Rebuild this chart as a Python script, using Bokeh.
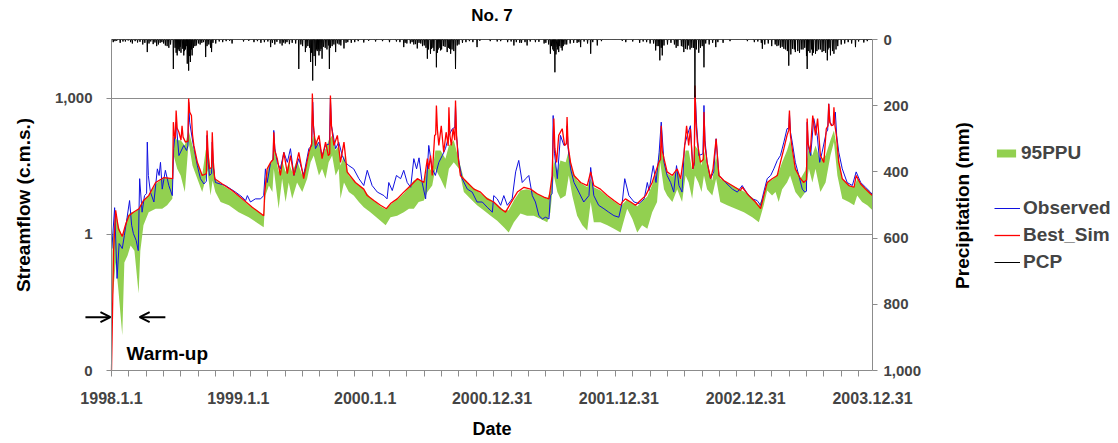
import math
import numpy as np
from bokeh.plotting import figure
from bokeh.models import (Range1d, LinearAxis, LinearScale, FixedTicker, Legend,
                          LegendItem, Arrow, OpenHead, Label)
from bokeh.embed import file_html
from bokeh.resources import INLINE

# ---------------- data (days since 1998-01-01) ----------------
x_tick_days = [0, 365, 730, 1095, 1460, 1825, 2190]
x_tick_labels = ["1998.1.1", "1999.1.1", "2000.1.1", "2000.12.31",
                 "2001.12.31", "2002.12.31", "2003.12.31"]
x_minor_days = list(range(0, 2191, 50))
q_ticks = [0.001, 1, 1000]
q_tick_labels = ["0", "1", "1,000"]
pcp_ticks = [0, 200, 400, 600, 800, 1000]

sim_day = [0, 6, 12, 20, 31, 40, 50, 63, 79, 92,
           107, 127, 151, 176, 178, 181, 184, 186, 189, 194,
           200, 203, 206, 213, 220, 222, 225, 230, 233, 237,
           247, 261, 273, 275, 278, 282, 288, 290, 293, 297,
           319, 347, 376, 405, 438, 441, 448, 458, 465, 467,
           470, 477, 486, 496, 506, 515, 525, 539, 553, 568,
           576, 578, 581, 587, 597, 606, 616, 624, 628, 630,
           633, 640, 650, 659, 669, 678, 702, 726, 736, 755,
           774, 791, 803, 822, 841, 861, 880, 899, 909, 913,
           918, 923, 930, 933, 935, 938, 942, 949, 956, 963,
           969, 971, 974, 978, 983, 988, 990, 993, 997, 1004,
           1024, 1043, 1062, 1081, 1100, 1120, 1134, 1148, 1168, 1187,
           1206, 1225, 1244, 1259, 1268, 1273, 1276, 1281, 1287, 1297,
           1304, 1309, 1311, 1314, 1321, 1331, 1350, 1369, 1379, 1388,
           1407, 1427, 1446, 1465, 1470, 1479, 1494, 1508, 1522, 1537,
           1556, 1575, 1580, 1582, 1585, 1590, 1599, 1614, 1628, 1638,
           1647, 1655, 1661, 1666, 1673, 1677, 1679, 1682, 1686, 1695,
           1703, 1705, 1708, 1714, 1724, 1731, 1740, 1748, 1762, 1786,
           1810, 1815, 1834, 1853, 1868, 1877, 1887, 1901, 1916, 1925,
           1935, 1944, 1949, 1951, 1954, 1959, 1968, 1983, 1992, 2000,
           2002, 2005, 2011, 2018, 2026, 2032, 2040, 2050, 2057, 2062,
           2064, 2067, 2072, 2077, 2079, 2082, 2086, 2093, 2103, 2122,
           2137, 2143, 2156, 2170, 2184, 2190]
sim_q = [0.001, 0.44, 3.4, 1.34, 0.9, 1.6, 2.6, 3.1, 3.7, 5.6,
         7.2, 14, 18, 17, 300, 153, 130, 540, 220, 180,
         120, 250, 140, 109, 115, 1000, 500, 420, 160, 92,
         39, 20, 22, 197, 60, 28, 30, 180, 40, 17,
         13, 9.3, 6.1, 4.0, 2.6, 8.6, 28, 39, 45, 180,
         70, 47, 20, 65, 22, 55, 20, 65, 17, 65,
         100, 1290, 250, 92, 153, 47, 109, 55, 60, 1160,
         250, 92, 153, 39, 109, 24, 14, 10, 7.2, 5.6,
         4.4, 3.7, 4.8, 6.1, 8.6, 12, 17, 14, 47, 28,
         55, 20, 153, 160, 700, 200, 92, 250, 65, 180,
         90, 640, 150, 92, 215, 120, 900, 150, 55, 20,
         14, 10, 8.6, 6.1, 5.2, 3.7, 3.1, 4.8, 8.6, 11,
         10, 7.9, 6.7, 6.1, 20, 360, 80, 39, 153, 215,
         92, 100, 390, 90, 39, 20, 14, 12, 24, 12,
         10, 7.2, 5.6, 4.4, 5.2, 6.1, 5.2, 4.4, 5.6, 7.2,
         14, 39, 45, 250, 70, 47, 24, 20, 28, 17,
         55, 250, 92, 215, 28, 40, 1940, 300, 109, 39,
         45, 500, 90, 39, 17, 28, 129, 20, 15.5, 12,
         9.3, 11, 7.2, 5.2, 3.7, 7.2, 14, 17, 20, 39,
         78, 153, 200, 540, 150, 78, 28, 17, 14, 16,
         360, 100, 65, 420, 153, 360, 55, 39, 215, 250,
         760, 300, 250, 260, 640, 250, 153, 39, 17, 12,
         11, 20, 13, 10, 7.9, 7.2]

obs_day = [1, 9, 16, 22, 31, 37, 45, 52, 58, 63,
           71, 77, 81, 88, 95, 101, 103, 106, 112, 122,
           132, 137, 141, 146, 155, 165, 175, 179, 186, 194,
           208, 216, 220, 222, 225, 234, 247, 256, 266, 273,
           275, 278, 282, 288, 290, 293, 299, 328, 357, 376,
           386, 391, 400, 414, 429, 438, 443, 448, 458, 465,
           467, 470, 477, 486, 496, 506, 515, 525, 539, 553,
           568, 576, 579, 582, 587, 597, 606, 616, 627, 630,
           633, 645, 654, 664, 673, 683, 697, 712, 726, 736,
           750, 765, 784, 793, 798, 808, 820, 832, 841, 851,
           861, 870, 878, 885, 894, 904, 913, 923, 932, 942,
           952, 961, 971, 981, 988, 990, 993, 1000, 1009, 1024,
           1038, 1052, 1067, 1081, 1096, 1100, 1110, 1120, 1129, 1139,
           1153, 1163, 1172, 1182, 1192, 1201, 1211, 1220, 1230, 1240,
           1249, 1259, 1263, 1268, 1271, 1275, 1283, 1292, 1302, 1309,
           1311, 1314, 1321, 1331, 1345, 1359, 1374, 1379, 1388, 1402,
           1417, 1431, 1446, 1460, 1470, 1477, 1489, 1504, 1518, 1533,
           1542, 1547, 1559, 1567, 1576, 1582, 1590, 1599, 1609, 1618,
           1626, 1633, 1642, 1649, 1657, 1666, 1673, 1677, 1680, 1684,
           1690, 1702, 1705, 1708, 1714, 1724, 1733, 1740, 1748, 1767,
           1787, 1801, 1815, 1830, 1844, 1858, 1868, 1877, 1887, 1897,
           1906, 1916, 1925, 1935, 1944, 1949, 1951, 1954, 1959, 1968,
           1978, 1988, 1995, 2000, 2002, 2005, 2012, 2021, 2031, 2038,
           2045, 2057, 2061, 2064, 2068, 2074, 2080, 2083, 2087, 2093,
           2103, 2117, 2132, 2143, 2156, 2170, 2184, 2190]
obs_q = [0.49, 3.9, 0.107, 0.63, 0.49, 0.95, 2.4, 5.6, 1.6, 1.05,
         0.74, 0.44, 17, 3.1, 7.2, 8, 109, 20, 8.6, 5.2,
         28, 20, 39, 10, 26, 12, 7.2, 78, 300, 55,
         92, 71, 90, 830, 300, 109, 33, 17, 13, 15,
         153, 40, 20, 22, 109, 30, 14, 12, 8.6, 6.7,
         5.6, 7.2, 5.2, 6.1, 6.1, 7.2, 28, 14, 39, 45,
         197, 80, 39, 28, 65, 39, 78, 20, 47, 20,
         78, 90, 830, 200, 78, 109, 55, 92, 100, 1000,
         250, 78, 109, 55, 39, 33, 28, 17, 12, 26,
         12, 8.6, 7.2, 6.1, 14, 9.3, 20, 17, 26, 14,
         11, 47, 28, 49, 14, 6.1, 92, 28, 20, 39,
         55, 78, 153, 215, 230, 700, 150, 39, 17, 10,
         8.6, 5.2, 5.2, 4.0, 3.1, 7.2, 6.1, 4.4, 7.2, 4.4,
         6.1, 24, 43, 14, 17, 20, 7.2, 5.2, 2.6, 2.2,
         2.4, 2.2, 7.2, 8, 420, 60, 17, 153, 92, 100,
         250, 80, 28, 14, 8.6, 5.2, 7.2, 30, 7.2, 4.4,
         3.7, 3.1, 2.6, 2.4, 5.2, 17, 7.2, 5.2, 4.8, 6.1,
         14, 9.3, 33, 14, 65, 300, 39, 20, 14, 8.6,
         33, 12, 8.6, 92, 153, 250, 28, 35, 1160, 250,
         55, 60, 700, 120, 39, 17, 24, 129, 20, 14,
         10, 8.6, 12, 7.9, 6.1, 5.6, 4.4, 8.6, 17, 20,
         28, 43, 55, 109, 215, 220, 460, 180, 109, 39,
         20, 10, 8.6, 9, 300, 90, 55, 360, 153, 39,
         65, 180, 200, 760, 300, 250, 280, 500, 150, 65,
         28, 14, 12, 24, 14, 11, 8.6, 7.5]

band_day = [3, 12, 20, 31, 37, 46, 55, 66, 78, 83,
            92, 107, 127, 146, 160, 175, 179, 189, 199, 211,
            222, 233, 251, 261, 271, 276, 285, 291, 299, 314,
            338, 366, 395, 424, 438, 443, 453, 463, 467, 481,
            491, 501, 510, 520, 534, 549, 563, 573, 582, 597,
            606, 616, 625, 635, 645, 654, 659, 669, 683, 697,
            712, 726, 745, 774, 789, 803, 822, 841, 856, 870,
            884, 899, 909, 923, 932, 947, 961, 971, 985, 1000,
            1014, 1033, 1052, 1071, 1091, 1110, 1129, 1143, 1158, 1177,
            1196, 1215, 1235, 1254, 1263, 1273, 1283, 1292, 1307, 1316,
            1326, 1340, 1355, 1369, 1379, 1388, 1407, 1427, 1446, 1465,
            1484, 1499, 1513, 1527, 1542, 1556, 1570, 1579, 1590, 1599,
            1614, 1628, 1642, 1652, 1661, 1671, 1679, 1689, 1698, 1705,
            1714, 1729, 1740, 1752, 1772, 1796, 1820, 1844, 1863, 1877,
            1887, 1901, 1911, 1920, 1930, 1944, 1953, 1968, 1983, 1997,
            2007, 2017, 2026, 2040, 2055, 2069, 2079, 2089, 2103, 2122,
            2137, 2146, 2160, 2175, 2190]
band_lo = [0.035, 0.24, 0.058, 0.006, 0.24, 0.34, 0.57, 0.44, 0.050, 0.44,
           1.6, 3.1, 3.7, 3.7, 4.4, 6.1, 55, 28, 20, 8.6,
           109, 33, 14, 8.6, 17, 26, 7.2, 15.5, 8.6, 5.2,
           4.4, 3.1, 2.4, 1.7, 1.45, 7.2, 12, 8.6, 28, 3.7,
           17, 5.2, 14, 6.1, 14, 8.6, 17, 39, 55, 20,
           28, 17, 39, 55, 20, 28, 6.1, 14, 8.6, 7.2,
           5.2, 4.0, 3.1, 2.0, 1.6, 2.4, 2.6, 3.1, 3.7, 3.7,
           5.2, 5.6, 8.6, 12, 28, 17, 10, 28, 39, 28,
           8.6, 6.1, 4.4, 3.4, 2.6, 2.0, 1.45, 1.1, 1.85, 2.9,
           2.6, 2.6, 2.2, 1.85, 3.1, 20, 8.6, 6.1, 7.2, 20,
           7.2, 2.6, 1.6, 1.22, 5.2, 1.85, 1.85, 1.6, 1.34, 1.1,
           3.7, 2.2, 1.1, 1.6, 1.34, 3.1, 5.2, 39, 10, 7.2,
           5.2, 10, 5.2, 20, 14, 6.1, 20, 14, 8.6, 20,
           10, 7.2, 17, 5.2, 4.4, 3.7, 3.1, 2.4, 1.85, 4.4,
           9.3, 7.2, 8.6, 5.2, 10, 14, 20, 8.6, 6.1, 8.6,
           28, 14, 28, 8.6, 14, 55, 109, 20, 6.1, 5.2,
           4.4, 7.2, 5.2, 4.4, 3.4]
band_hi = [0.74, 3.1, 1.6, 0.86, 1.34, 2.6, 3.1, 3.1, 3.7, 4.4,
           5.6, 7.2, 13, 17, 18, 17, 153, 119, 119, 92,
           197, 92, 33, 20, 71, 92, 26, 55, 16, 13,
           10, 6.9, 4.4, 3.2, 2.6, 17, 33, 43, 92, 24,
           43, 24, 39, 24, 43, 20, 39, 92, 153, 92,
           55, 78, 119, 153, 71, 92, 33, 55, 20, 15.5,
           12, 9.8, 6.5, 4.2, 3.6, 4.6, 5.9, 8.0, 11, 15.5,
           17, 14, 33, 24, 71, 71, 47, 92, 119, 43,
           17, 12, 9.3, 7.2, 5.9, 4.6, 3.4, 3.4, 5.6, 9.3,
           10, 8.9, 7.2, 6.1, 9.3, 43, 26, 43, 39, 71,
           26, 15.5, 13, 11, 17, 11, 9.3, 6.9, 5.4, 4.2,
           5.9, 4.8, 4.2, 5.4, 6.9, 12.5, 26, 92, 43, 22,
           19, 26, 16, 71, 71, 26, 92, 71, 33, 71,
           33, 15.5, 55, 17, 14, 11, 8.9, 6.5, 4.4, 7.2,
           14, 16, 19, 24, 39, 71, 119, 28, 17, 26,
           92, 55, 92, 43, 55, 119, 197, 71, 17, 12,
           11, 17, 12.5, 10, 7.6]

# daily precipitation (mm): larger storms, then smaller rain days
pcp_day = [103, 178, 189, 208, 218, 222, 227, 232, 271, 288,
           347, 458, 491, 539, 558, 573, 579, 587, 597, 606,
           627, 645, 669, 726, 841, 880, 909, 918, 935, 947,
           966, 976, 990, 1052, 1158, 1196, 1263, 1276, 1287, 1297,
           1350, 1379, 1398, 1566, 1578, 1585, 1647, 1657, 1679, 1705,
           1739, 1873, 1935, 1949, 1968, 2002, 2017, 2026, 2045, 2060,
           2069, 2079, 2141, 2165,
           5, 25, 40, 60, 75, 90, 120, 130, 140, 155,
           165, 195, 200, 213, 240, 255, 300, 320, 380, 410,
           430, 470, 500, 520, 550, 560, 590, 600, 615, 620,
           635, 655, 690, 700, 760, 800, 850, 870, 895, 925,
           940, 955, 970, 995, 1010, 1040, 1110, 1140, 1180, 1220,
           1245, 1270, 1280, 1290, 1305, 1320, 1340, 1480, 1520, 1550,
           1575, 1600, 1625, 1640, 1665, 1675, 1690, 1700, 1720, 1760,
           1850, 1880, 1900, 1920, 1940, 1955, 1975, 1990, 2010, 2035,
           2050, 2065, 2085, 2100, 2130,
           10, 15, 33, 48, 55, 68, 82, 96, 108, 113,
           125, 135, 145, 150, 160, 170, 183, 186, 192, 198,
           205, 210, 215, 220, 225, 230, 236, 244, 250, 260,
           265, 275, 280, 285, 292, 310, 330, 340, 395, 420,
           440, 450, 463, 476, 485, 495, 505, 512, 530, 545,
           565, 570, 576, 583, 592, 595, 603, 610, 625, 630,
           640, 650, 660, 675, 680, 710, 740, 780, 820, 830,
           845, 860, 865, 875, 885, 890, 900, 905, 912, 921,
           928, 938, 945, 950, 960, 973, 980, 985, 1000, 1020,
           1030, 1060, 1090, 1120, 1150, 1165, 1175, 1190, 1205, 1230,
           1250, 1258, 1266, 1273, 1279, 1284, 1294, 1300, 1310, 1330,
           1345, 1360, 1370, 1385, 1410, 1470, 1500, 1530, 1540, 1560,
           1570, 1582, 1590, 1610, 1620, 1630, 1645, 1652, 1660, 1670,
           1683, 1695, 1710, 1730, 1745, 1780, 1830, 1860, 1870, 1890,
           1910, 1915, 1925, 1930, 1945, 1960, 1965, 1980, 1985, 1995,
           2000, 2005, 2015, 2020, 2030, 2040, 2055, 2062, 2075, 2090,
           2110, 2120, 2150, 2175]
pcp_mm = [38, 89, 48, 48, 73, 94, 68, 48, 53, 38,
          12, 23, 18, 89, 38, 68, 124, 79, 48, 58,
          89, 38, 27, 9, 23, 27, 58, 43, 84, 33,
          38, 43, 89, 23, 18, 18, 43, 99, 38, 33,
          23, 43, 18, 33, 63, 48, 38, 30, 175, 84,
          23, 28, 28, 79, 38, 89, 48, 43, 38, 63,
          48, 43, 23, 9,
          8, 10, 6, 12, 9, 15, 14, 20, 10, 18,
          25, 35, 40, 30, 20, 15, 12, 8, 6, 8,
          10, 15, 12, 10, 20, 25, 30, 35, 25, 30,
          20, 15, 10, 8, 6, 8, 12, 15, 20, 25,
          30, 20, 25, 18, 10, 8, 6, 8, 10, 8,
          12, 30, 25, 20, 15, 12, 10, 8, 10, 12,
          20, 15, 25, 20, 30, 25, 40, 20, 15, 10,
          8, 15, 20, 18, 30, 45, 35, 30, 40, 30,
          35, 25, 30, 15, 12,
          5, 4, 6, 3, 8, 5, 7, 10, 12, 6,
          9, 15, 8, 12, 20, 15, 25, 40, 30, 22,
          28, 35, 20, 45, 50, 30, 25, 18, 12, 10,
          8, 20, 15, 25, 10, 6, 5, 4, 4, 5,
          8, 6, 10, 7, 12, 9, 8, 14, 12, 15,
          20, 25, 40, 50, 35, 30, 28, 22, 18, 25,
          15, 12, 18, 10, 8, 5, 4, 5, 6, 8,
          10, 12, 8, 14, 10, 12, 18, 25, 30, 28,
          35, 40, 25, 30, 22, 28, 30, 35, 15, 8,
          5, 4, 5, 5, 6, 8, 10, 8, 6, 7,
          10, 15, 20, 35, 45, 30, 25, 20, 15, 10,
          8, 6, 12, 8, 5, 4, 6, 6, 8, 12,
          20, 25, 18, 10, 15, 20, 22, 28, 18, 25,
          30, 25, 12, 10, 8, 5, 5, 6, 10, 12,
          15, 20, 25, 22, 35, 28, 30, 40, 30, 25,
          50, 35, 30, 40, 35, 30, 40, 30, 35, 20,
          12, 8, 6, 5]

# daily precipitation series: zero on days without a read value
n_days = 2191
pcp_full = np.zeros(n_days)
np.maximum.at(pcp_full, np.array(pcp_day), np.array(pcp_mm, dtype=float))
all_days = np.arange(n_days)

# ---------------- layout constants (page pixels) ----------------
FONT = "Liberation Sans"
GRAY = "#8c8c8c"
W, H = 1118, 443
PA_LEFT, PA_RIGHT, PA_TOP, PA_BOTTOM = 111, 872, 39, 370   # plot area
px_day = (PA_RIGHT - PA_LEFT) / 2190.0
x_lo = -PA_LEFT / px_day
x_hi = (W - PA_LEFT) / px_day
px_dec = (PA_BOTTOM - PA_TOP) / 7.3          # log axis: 1e-3 .. 10**4.3
y_lo = 10 ** (-3 - (H - PA_BOTTOM) / px_dec)
y_hi = 10 ** (-3 + PA_BOTTOM / px_dec)
px_mm = (PA_BOTTOM - PA_TOP) / 1000.0
r_top = -PA_TOP / px_mm
r_bot = (H - PA_TOP) / px_mm

p = figure(width=W, height=H, y_axis_type="log",
           x_range=Range1d(x_lo, x_hi), y_range=Range1d(y_lo, y_hi),
           output_backend="svg", toolbar_location=None, title=None,
           min_border_left=0, min_border_right=0,
           min_border_top=0, min_border_bottom=0)
p.outline_line_color = None
p.background_fill_color = "white"
p.border_fill_color = "white"

p.extra_y_ranges = {"pcp": Range1d(r_bot, r_top)}
p.extra_y_scales = {"pcp": LinearScale()}

band_r = p.varea(x=band_day, y1=band_lo, y2=band_hi, fill_color="#92D050")
obs_r = p.line(obs_day, obs_q, line_color="#1010E0", line_width=1)
sim_r = p.line(sim_day, sim_q, line_color="#FF0000", line_width=1.3)
pcp_r = p.line(all_days, pcp_full, y_range_name="pcp", line_color="black", line_width=1)

# horizontal grid lines only across the plot area
p.ygrid.grid_line_color = GRAY
p.ygrid.grid_line_width = 1
p.ygrid.ticker = FixedTicker(ticks=[1, 1000], minor_ticks=[])
if "cross_bounds" in p.ygrid.properties():
    p.ygrid.cross_bounds = (0, 2190)
else:
    p.ygrid.visible = False
    p.segment(x0=[0, 0], y0=[1, 1000], x1=[2190, 2190], y1=[1, 1000],
              line_color=GRAY, line_width=1)
p.xgrid.visible = False

# left (log) axis, pinned at 1998.1.1
ly = p.yaxis[0]
ly.fixed_location = 0
ly.bounds = (1e-3, 10 ** 4.3)
ly.ticker = FixedTicker(ticks=q_ticks, minor_ticks=[])
ly.major_label_overrides = dict(zip(q_ticks, q_tick_labels))
ly.axis_label = "Streamflow (c.m.s.)"
ly.axis_label_text_font = FONT
ly.axis_label_text_font_size = "19px"
ly.axis_label_text_font_style = "bold"
ly.axis_label_text_color = "black"
ly.axis_label_standoff = 18
ly.major_label_text_font = FONT
ly.major_label_text_font_size = "15px"
ly.major_label_text_font_style = "bold"
ly.major_label_standoff = 14
ly.major_tick_out = 5
ly.major_tick_in = 0
ly.major_tick_line_color = GRAY
ly.minor_tick_line_color = None
ly.axis_line_color = GRAY

# bottom axis, pinned at the log-axis floor
bx = p.xaxis[0]
bx.fixed_location = 1e-3
bx.bounds = (0, 2190)
bx.ticker = FixedTicker(ticks=x_tick_days, minor_ticks=x_minor_days)
bx.major_label_overrides = dict(zip(x_tick_days, x_tick_labels))
bx.axis_label = "Date"
bx.axis_label_text_font = FONT
bx.axis_label_text_font_size = "18px"
bx.axis_label_text_font_style = "bold"
bx.axis_label_text_color = "black"
bx.axis_label_standoff = 12
bx.major_label_text_font = FONT
bx.major_label_text_font_size = "16px"
bx.major_label_text_font_style = "bold"
bx.major_tick_out = 0
bx.major_tick_in = 0
bx.major_label_standoff = 15
bx.minor_tick_out = 6
bx.minor_tick_in = 0
bx.minor_tick_line_color = GRAY
bx.axis_line_color = GRAY

# right (precipitation) axis, pinned at 2003.12.31
ry = LinearAxis(y_range_name="pcp", fixed_location=2190, bounds=(0, 1000),
                ticker=FixedTicker(ticks=pcp_ticks, minor_ticks=[]))
ry.major_label_overrides = {1000: "1,000"}
ry.major_label_text_font = FONT
ry.major_label_text_font_size = "15px"
ry.major_label_text_font_style = "bold"
ry.major_label_standoff = 6
ry.major_tick_out = 5
ry.major_tick_in = 0
ry.major_tick_line_color = GRAY
ry.axis_line_color = GRAY
p.add_layout(ry, "right")

text_style = dict(text_font=FONT, text_font_style="bold", text_color="black")

# chart title
p.add_layout(Label(x=(PA_LEFT + PA_RIGHT) / 2, y=H - 15, x_units="screen", y_units="screen",
                   text="No. 7", text_align="center", text_baseline="middle",
                   text_font_size="17px", **text_style))

# right axis title (reads bottom-to-top)
p.add_layout(Label(x=962, y=H - 205, x_units="screen", y_units="screen",
                   text="Precipitation (mm)", angle=math.pi / 2,
                   text_align="center", text_baseline="middle",
                   text_font_size="19px", **text_style))

# warm-up annotation
head = dict(size=10, line_width=2, line_color="black")
p.add_layout(Arrow(x_start=-75, y_start=0.015, x_end=-3, y_end=0.015,
                   line_width=2, line_color="black", end=OpenHead(**head)))
p.add_layout(Arrow(x_start=155, y_start=0.015, x_end=81, y_end=0.015,
                   line_width=2, line_color="black", end=OpenHead(**head)))
p.add_layout(Label(x=43, y=0.00237, text="Warm-up", text_baseline="middle",
                   text_font_size="19px", **text_style))

# legends
leg_style = dict(border_line_color=None, background_fill_alpha=0,
                 label_text_font=FONT, label_text_font_size="19px",
                 label_text_font_style="bold", padding=0, margin=0,
                 label_standoff=3, spacing=5, glyph_height=10)
leg1 = Legend(items=[LegendItem(label="95PPU", renderers=[band_r])],
              location=(994, H - 164), glyph_width=24, **leg_style)
leg2 = Legend(items=[LegendItem(label="Observed", renderers=[obs_r]),
                     LegendItem(label="Best_Sim", renderers=[sim_r]),
                     LegendItem(label="PCP", renderers=[pcp_r])],
              location=(994, H - 273), glyph_width=26, **leg_style)
p.add_layout(leg1)
p.add_layout(leg2)

open("out.html", "w").write(file_html(p, INLINE))
